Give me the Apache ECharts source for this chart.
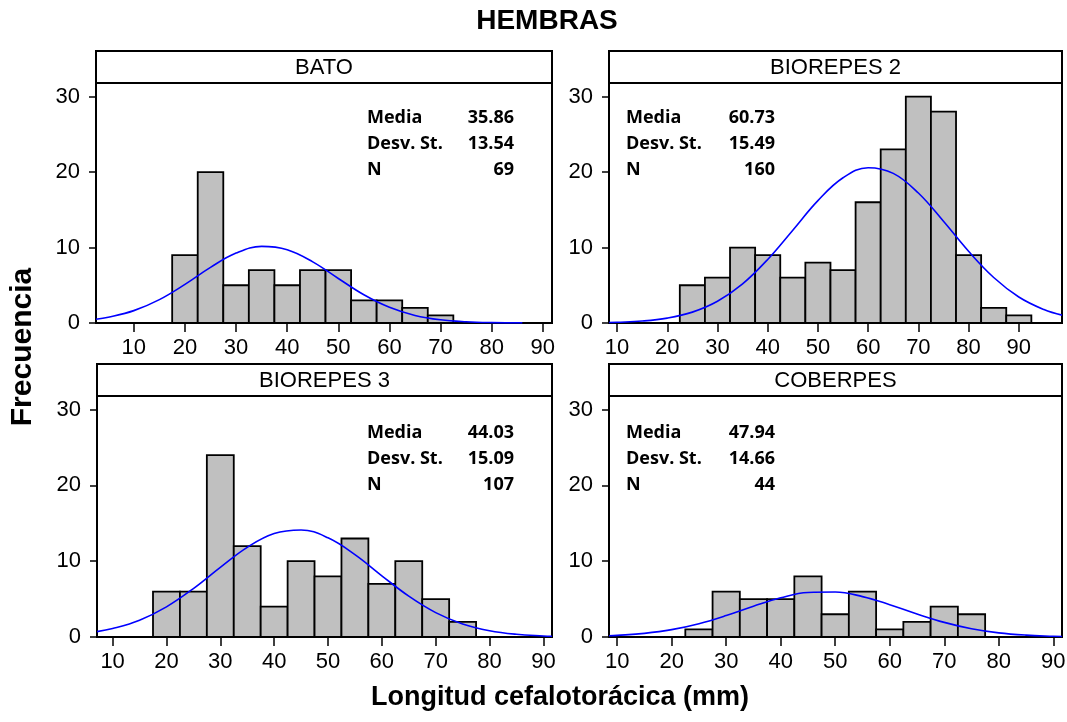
<!DOCTYPE html>
<html><head><meta charset="utf-8">
<script src="https://cdn.jsdelivr.net/npm/echarts@6/dist/echarts.min.js"></script>
<style>html,body{margin:0;padding:0;background:#fff}#c{width:1067px;height:722px}</style>
</head><body><div id="c"></div>
<script>
// ---------- data ----------
const chartTitle = 'HEMBRAS';
const xTitle = 'Longitud cefalotorácica (mm)';
const yTitle = 'Frecuencia';
const panelNames = ['BATO', 'BIOREPES 2', 'BIOREPES 3', 'COBERPES'];
const statLabels = ['Media', 'Desv. St.', 'N'];
const mediaValues = ['35.86', '60.73', '44.03', '47.94'];
const desvValues = ['13.54', '15.49', '15.09', '14.66'];
const nValues = ['69', '160', '107', '44'];
const binWidth = 5;

const batoBins = [20, 25, 30, 35, 40, 45, 50, 55, 60, 65, 70];
const batoCounts = [9, 20, 5, 7, 5, 7, 7, 3, 3, 2, 1];
const bio2Bins = [25, 30, 35, 40, 45, 50, 55, 60, 65, 70, 75, 80, 85, 90];
const bio2Counts = [5, 6, 10, 9, 6, 8, 7, 16, 23, 30, 28, 9, 2, 1];
const bio3Bins = [20, 25, 30, 35, 40, 45, 50, 55, 60, 65, 70, 75];
const bio3Counts = [6, 6, 24, 12, 4, 10, 8, 13, 7, 10, 5, 2];
const cobBins = [25, 30, 35, 40, 45, 50, 55, 60, 65, 70, 75];
const cobCounts = [1, 6, 5, 5, 8, 3, 6, 1, 2, 4, 3];

// fitted normal curves
const batoCurveX = [2.6, 5, 10, 15, 20, 25, 30, 35, 40, 45, 50, 55, 60, 65, 70, 75, 80, 86];
const batoCurveY = [0.50, 0.76, 1.64, 3.10, 5.12, 7.37, 9.26, 10.15, 9.71, 8.10, 5.90, 3.74, 2.08, 1.00, 0.42, 0.16, 0.05, 0.01];
const bio2CurveX = [8.4, 10, 15, 20, 25, 30, 35, 40, 45, 50, 55, 60, 65, 70, 75, 80, 85, 90, 95, 98.6];
const bio2CurveY = [0.07, 0.10, 0.26, 0.65, 1.44, 2.88, 5.18, 8.42, 12.30, 16.21, 19.24, 20.58, 19.83, 17.22, 13.48, 9.50, 6.03, 3.45, 1.78, 1.04];
const bio3CurveX = [7.1, 10, 15, 20, 25, 30, 35, 40, 45, 50, 55, 60, 65, 70, 75, 80, 85, 90, 91.6];
const bio3CurveY = [0.71, 1.11, 2.22, 3.98, 6.39, 9.19, 11.83, 13.65, 14.12, 13.09, 10.87, 8.08, 5.39, 3.22, 1.72, 0.83, 0.36, 0.14, 0.10];
const cobCurveX = [8.5, 10, 15, 20, 25, 30, 35, 40, 45, 50, 55, 60, 65, 70, 75, 80, 85, 90, 91.6];
const cobCurveY = [0.16, 0.21, 0.48, 0.97, 1.76, 2.83, 4.06, 5.17, 5.87, 5.93, 5.33, 4.27, 3.04, 1.93, 1.09, 0.55, 0.25, 0.10, 0.07];

const xTickValues = [10, 20, 30, 40, 50, 60, 70, 80, 90];
const yTickValues = [0, 10, 20, 30];
const xMins = [2.6, 8.4, 7.1, 8.5];
const xMaxs = [91.8, 98.6, 91.6, 91.6];
const yMin = 0, yMax = 31.8;

// ---------- layout ----------
const grids = [
  {left: 96, top: 83, width: 456, height: 240},
  {left: 609, top: 83, width: 453, height: 240},
  {left: 97, top: 396, width: 455, height: 241},
  {left: 609, top: 396, width: 453, height: 241}
];
const headerH = 32;
const statPos = [
  {lx: 367, rx: 514, y: 118},
  {lx: 626, rx: 775, y: 118},
  {lx: 367, rx: 514, y: 433},
  {lx: 626, rx: 775, y: 433}
];
const statGap = 26;

const binsAll = [batoBins, bio2Bins, bio3Bins, cobBins];
const countsAll = [batoCounts, bio2Counts, bio3Counts, cobCounts];
const curveXAll = [batoCurveX, bio2CurveX, bio3CurveX, cobCurveX];
const curveYAll = [batoCurveY, bio2CurveY, bio3CurveY, cobCurveY];

const tickFont = 'Liberation Sans, Arial, sans-serif';
const statFont = '"Open Sans", sans-serif';

const chart = echarts.init(document.getElementById('c'), null, {renderer: 'canvas'});

const gridOpts = [], xAxes = [], yAxes = [], series = [], graphics = [];

grids.forEach((g, i) => {
  gridOpts.push({left: g.left, top: g.top, width: g.width, height: g.height,
    show: true, borderColor: '#000', borderWidth: 2, backgroundColor: '#fff',
    containLabel: false, outerBoundsMode: 'none'});
  xAxes.push({type: 'value', gridIndex: i, min: xMins[i], max: xMaxs[i],
    axisLine: {show: false}, splitLine: {show: false},
    axisTick: {show: true, length: 9, customValues: xTickValues, lineStyle: {color: '#000', width: 1.5}},
    axisLabel: {show: true, customValues: xTickValues, margin: 14, color: '#000', fontSize: 22, fontFamily: tickFont}
  });
  yAxes.push({type: 'value', gridIndex: i, min: yMin, max: yMax,
    axisLine: {show: false}, splitLine: {show: false},
    axisTick: {show: true, length: 7, customValues: yTickValues, lineStyle: {color: '#000', width: 1.5}},
    axisLabel: {show: true, customValues: yTickValues, margin: 16, color: '#000', fontSize: 22, fontFamily: tickFont}
  });
  series.push({
    type: 'custom', xAxisIndex: i, yAxisIndex: i, z: 2,
    data: binsAll[i].map((b, k) => [b, countsAll[i][k]]),
    renderItem: (params, api) => {
      const c = api.value(0), v = api.value(1);
      const p1 = api.coord([c - binWidth / 2, v]);
      const p2 = api.coord([c + binWidth / 2, 0]);
      return {type: 'rect', shape: {x: p1[0], y: p1[1], width: p2[0] - p1[0], height: p2[1] - p1[1]},
        style: {fill: '#c0c0c0', stroke: '#000', lineWidth: 1.8}};
    }
  });
  series.push({
    type: 'line', xAxisIndex: i, yAxisIndex: i, z: 3, smooth: 0.4, showSymbol: false, silent: true,
    data: curveXAll[i].map((x, k) => [x, curveYAll[i][k]]),
    lineStyle: {color: '#0000ff', width: 1.6}
  });
  // header box
  graphics.push({type: 'rect', z: 10, shape: {x: g.left, y: g.top - headerH, width: g.width, height: headerH},
    style: {fill: '#fff', stroke: '#000', lineWidth: 2}});
  graphics.push({type: 'text', z: 11, x: g.left + g.width / 2, y: g.top - headerH / 2 + 1,
    style: {text: panelNames[i], fill: '#000', font: '22px ' + tickFont, align: 'center', verticalAlign: 'middle'}});
  // stats
  const s = statPos[i];
  const vals = [mediaValues[i], desvValues[i], nValues[i]];
  statLabels.forEach((lab, k) => {
    graphics.push({type: 'text', z: 11, x: s.lx, y: s.y + k * statGap,
      style: {text: lab, fill: '#000', font: 'bold 18px ' + statFont, align: 'left', verticalAlign: 'middle'}});
    graphics.push({type: 'text', z: 11, x: s.rx, y: s.y + k * statGap,
      style: {text: vals[k], fill: '#000', font: 'bold 18px ' + statFont, align: 'right', verticalAlign: 'middle'}});
  });
});

graphics.push({type: 'text', x: 547, y: 21,
  style: {text: chartTitle, fill: '#000', font: 'bold 28px Liberation Sans, Arial, sans-serif', align: 'center', verticalAlign: 'middle'}});
graphics.push({type: 'text', x: 560, y: 698,
  style: {text: xTitle, fill: '#000', font: 'bold 27px Liberation Sans, Arial, sans-serif', align: 'center', verticalAlign: 'middle'}});
graphics.push({type: 'text', x: 23, y: 347, rotation: Math.PI / 2,
  style: {text: yTitle, fill: '#000', font: 'bold 30px Liberation Sans, Arial, sans-serif', align: 'center', verticalAlign: 'middle'}});

chart.setOption({
  animation: false,
  backgroundColor: '#fff',
  grid: gridOpts,
  xAxis: xAxes,
  yAxis: yAxes,
  series: series,
  graphic: graphics
});
</script>
</body></html>
